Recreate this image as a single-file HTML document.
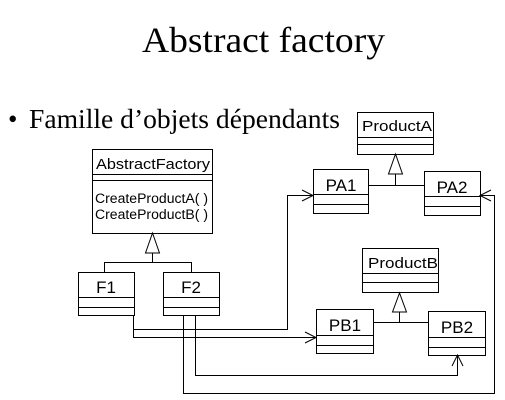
<!DOCTYPE html>
<html><head><style>body{margin:0;background:#fff}svg{display:block}</style></head><body>
<svg width="505" height="400" viewBox="0 0 505 400" xmlns="http://www.w3.org/2000/svg">
<text x="142" y="52" font-family="Liberation Serif, serif" font-size="36" textLength="243" lengthAdjust="spacingAndGlyphs">Abstract factory</text>
<text x="8" y="128" font-family="Liberation Serif, serif" font-size="27">•</text>
<text x="29" y="128" font-family="Liberation Serif, serif" font-size="27" textLength="311" lengthAdjust="spacingAndGlyphs">Famille d’objets dépendants</text>
<g fill="#fff" stroke="#000" stroke-width="1">
<rect x="92.5" y="149.5" width="120" height="84"/>
<line x1="92" y1="174.5" x2="212" y2="174.5"/><line x1="92" y1="180.5" x2="212" y2="180.5"/>
<rect x="357.5" y="112.5" width="76" height="42"/>
<line x1="357" y1="137.5" x2="433" y2="137.5"/><line x1="357" y1="144.5" x2="433" y2="144.5"/>
<rect x="362.5" y="248.5" width="76" height="44"/>
<line x1="362" y1="273.5" x2="438" y2="273.5"/><line x1="362" y1="282.5" x2="438" y2="282.5"/>
<rect x="78.5" y="272.5" width="56" height="43"/>
<line x1="78" y1="297.5" x2="134" y2="297.5"/><line x1="78" y1="307.5" x2="134" y2="307.5"/>
<rect x="163.5" y="272.5" width="56" height="43"/>
<line x1="163" y1="297.5" x2="219" y2="297.5"/><line x1="163" y1="307.5" x2="219" y2="307.5"/>
<rect x="313.5" y="169.5" width="55" height="44"/>
<line x1="313" y1="194.5" x2="368" y2="194.5"/><line x1="313" y1="204.5" x2="368" y2="204.5"/>
<rect x="424.5" y="171.5" width="56" height="44"/>
<line x1="424" y1="196.5" x2="480" y2="196.5"/><line x1="424" y1="206.5" x2="480" y2="206.5"/>
<rect x="316.5" y="309.5" width="57" height="44"/>
<line x1="316" y1="335.5" x2="373" y2="335.5"/><line x1="316" y1="345.5" x2="373" y2="345.5"/>
<rect x="428.5" y="311.5" width="57" height="44"/>
<line x1="428" y1="337.5" x2="485" y2="337.5"/><line x1="428" y1="347.5" x2="485" y2="347.5"/>
</g>
<g fill="none" stroke="#000" stroke-width="1">
<polygon points="152.5,233 145.5,253 159.5,253" fill="#fff"/>
<path d="M152.5 253V262.5M104.5 272V262.5H191.5V272"/>
<polygon points="395.5,154 388.5,174 402.5,174" fill="#fff"/>
<path d="M395.5 174V185.5M368 185.5H424"/>
<polygon points="399.5,293 392.5,312 406.5,312" fill="#fff"/>
<path d="M399.5 312V322.5M373 322.5H428"/>
<path d="M133.5 315V329.5H287.5V195.5H313M302 190L313 195.5L302 201"/>
<path d="M133.5 315V337.5H316M305 332L316 337.5L305 343"/>
<path d="M183.5 315V393.5H494.5V195.5H480M491 190L480 195.5L491 201"/>
<path d="M195.5 315V375.5H457.5V355M452 366L457.5 355L463 366"/>
</g>
<g font-family="Liberation Sans, sans-serif" fill="#000">
<text x="96" y="169" font-size="15" textLength="114" lengthAdjust="spacingAndGlyphs">AbstractFactory</text>
<text x="95" y="203" font-size="13.5" textLength="113" lengthAdjust="spacingAndGlyphs">CreateProductA( )</text>
<text x="95" y="219" font-size="13.5" textLength="113" lengthAdjust="spacingAndGlyphs">CreateProductB( )</text>
<text x="362" y="131" font-size="15" textLength="70" lengthAdjust="spacingAndGlyphs">ProductA</text>
<text x="368" y="268" font-size="15" textLength="70" lengthAdjust="spacingAndGlyphs">ProductB</text>
<text x="106" y="293" font-size="17" text-anchor="middle">F1</text>
<text x="191" y="293" font-size="17" text-anchor="middle">F2</text>
<text x="341" y="191" font-size="17" text-anchor="middle">PA1</text>
<text x="452" y="193" font-size="17" text-anchor="middle">PA2</text>
<text x="345" y="331" font-size="17" text-anchor="middle">PB1</text>
<text x="457" y="333" font-size="17" text-anchor="middle">PB2</text>
</g>
</svg>
</body></html>
